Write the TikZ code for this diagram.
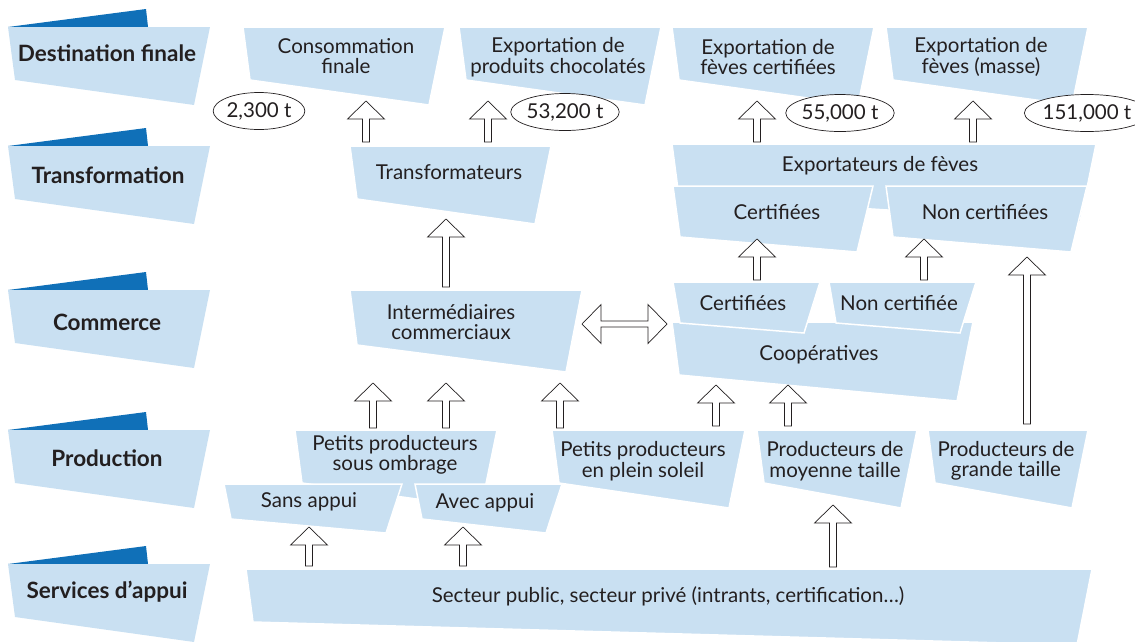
\documentclass[tikz,border=0pt]{standalone}
\usepackage{fontspec}
\setmainfont{Lato}
\usetikzlibrary{shapes.geometric,calc}
\definecolor{boxblue}{RGB}{201,224,242}
\definecolor{tabblue}{RGB}{16,112,184}
\definecolor{ink}{RGB}{35,31,32}

% slanted box: top-left x, top y, top-right x, left height, right height
\newcommand\qbox[5]{%
  \fill[boxfill] (#1,#2) -- (#3,#2) -- (#3-16,#2+#5) -- (#1+7,#2+#4) -- cycle;}
% row heading with its dark tab: top y
\newcommand\rowhead[1]{%
  \fill[tabblue] (8,#1) -- (146,#1-18) -- (148,#1) -- cycle;
  \fill[boxblue] (8,#1) -- (210,#1) -- (194,#1+78) -- (15,#1+53) -- cycle;}
% hollow upward block arrow from #1 (foot) to #2 (tip)
\newcommand\uparr[2]{%
  \draw[blockarrow] let \p1=(#1), \p2=(#2) in
    ({\x1-3.5pt},\y1) -- ({\x1-3.5pt},{\y2-18pt}) -- ({\x1-18.5pt},{\y2-18pt})
    -- (\x1,\y2) -- ({\x1+18.5pt},{\y2-18pt}) -- ({\x1+3.5pt},{\y2-18pt})
    -- ({\x1+3.5pt},\y1) -- cycle;}
% hollow two-headed horizontal block arrow between #1 and #2
\newcommand\hdarr[2]{%
  \draw[blockarrow] let \p1=(#1), \p2=(#2) in
    (\x1,\y1) -- ({\x1+19pt},{\y1+19.5pt}) -- ({\x1+19pt},{\y1+3pt})
    -- ({\x2-19pt},{\y1+3pt}) -- ({\x2-19pt},{\y1+19.5pt}) -- (\x2,\y1)
    -- ({\x2-19pt},{\y1-19.5pt}) -- ({\x2-19pt},{\y1-3pt})
    -- ({\x1+19pt},{\y1-3pt}) -- ({\x1+19pt},{\y1-19.5pt}) -- cycle;}

\begin{document}
\begin{tikzpicture}[x=1pt,y=-1pt,
  boxfill/.style={fill=boxblue,draw=white,line width=1.5pt,line join=miter},
  blockarrow/.style={draw=ink,fill=white,line width=0.7pt,line join=miter},
  txt/.style={text=ink,font=\fontsize{20.5}{20.5}\selectfont,align=center,inner sep=0pt},
  headtxt/.style={text=ink,font=\fontsize{22.5}{22}\selectfont\bfseries,inner sep=0pt},
  qty/.style={ellipse,draw=ink,line width=0.7pt,fill=white,minimum width=91pt,
    minimum height=37pt,inner sep=0pt,text=ink,font=\fontsize{20.5}{20.5}\selectfont}]
\useasboundingbox (0,0) rectangle (1135,641);
\begin{scope}
\clip (0,0) rectangle (1135,641);

% row headings
\rowhead{27}  \node[headtxt] (hDest) at (107,53) {Destination finale};
\rowhead{146} \node[headtxt] (hTrans) at (108,175) {Transformation};
\rowhead{290} \node[headtxt] (hComm) at (107,322) {Commerce};
\rowhead{430} \node[headtxt] (hProd) at (107,458) {Production};
\rowhead{564} \node[headtxt] (hServ) at (107,592) {Services d’appui};

% final destinations
\qbox{243}{27}{445}{53}{78}
\node[txt] (conso) at (346,56) {Consommation\\finale};
\qbox{459}{27}{661}{53}{78}
\node[txt] (expchoc) at (558,57) {Exportation de\\produits chocolatés};
\qbox{672}{27}{874}{53}{78}
\node[txt] (expcert) at (768,57) {Exportation de\\fèves certifiées};
\qbox{886}{27}{1088}{53}{78}
\node[txt] (expmasse) at (981,57) {Exportation de\\fèves (masse)};

% quantities
\node[qty] (q1) at (259,111) {2,300 t};
\node[qty] (q2) at (565,112) {53,200 t};
\node[qty] (q3) at (840,113) {55,000 t};
\node[qty] (q4) at (1087,113) {151,000 t};

% transformation
\qbox{350}{146}{551}{53}{78}
\node[txt] (transfo) at (449,172) {Transformateurs};
\qbox{672}{144}{1096}{53}{78}
\node[txt] (exporteurs) at (880,166) {Exportateurs de fèves};
\qbox{673}{186}{873}{51}{66}
\node[txt] (excert) at (777,212) {Certifiées};
\qbox{886}{186}{1087}{51}{66}
\node[txt] (exnoncert) at (985,212) {Non certifiées};

% commerce
\qbox{350}{290}{582}{55}{82}
\node[txt] (interm) at (451,322) {Intermédiaires\\commerciaux};
\qbox{672}{322}{973}{53}{79}
\node[txt] (coop) at (819,355) {Coopératives};
\qbox{673}{282}{820}{41}{51}
\node[txt] (coopcert) at (743,303) {Certifiées};
\qbox{829}{282}{976}{41}{51}
\node[txt] (coopnon) at (899,303) {Non certifiée};

% production
\qbox{295}{430}{497}{53}{78}
\node[txt] (ombre) at (395,455) {Petits producteurs\\sous ombrage};
\qbox{224}{484}{402}{35}{49}
\node[txt] (sans) at (309,502) {Sans appui};
\qbox{415}{484}{562}{35}{49}
\node[txt] (avec) at (485,503) {Avec appui};
\qbox{552}{430}{745}{53}{78}
\node[txt] (soleil) at (643,461) {Petits producteurs\\en plein soleil};
\qbox{757}{430}{917}{53}{78}
\node[txt] (moyen) at (835,461) {Producteurs de\\moyenne taille};
\qbox{928}{430}{1088}{53}{78}
\node[txt] (grand) at (1006,461) {Producteurs de\\grande taille};

% support services
\fill[boxfill] (246,569) -- (1092,569) -- (1077,645) -- (253,622) -- cycle;
\node[txt] (serv) at (668,596) {Secteur public, secteur privé (intrants, certification…)};

% arrow end points
\coordinate (aConsoF) at (366,142);  \coordinate (aConsoT) at (366,101);
\coordinate (aChocF)  at (488,142);  \coordinate (aChocT)  at (488,101);
\coordinate (aCertF)  at (757,142);  \coordinate (aCertT)  at (757,101);
\coordinate (aMasseF) at (973,142);  \coordinate (aMasseT) at (973,101);
\coordinate (aTrF)    at (446,287);  \coordinate (aTrT)    at (446,219);
\coordinate (aCcF)    at (757,280);  \coordinate (aCcT)    at (757,239);
\coordinate (aCnF)    at (924,280);  \coordinate (aCnT)    at (924,239);
\coordinate (aGrF)    at (1027,424); \coordinate (aGrT)    at (1027,257);
\coordinate (aOm1F)   at (373,428);  \coordinate (aOm1T)   at (373,383);
\coordinate (aOm2F)   at (446,428);  \coordinate (aOm2T)   at (446,383);
\coordinate (aSoIF)   at (560,428);  \coordinate (aSoIT)   at (560,383);
\coordinate (aSoCF)   at (716,426);  \coordinate (aSoCT)   at (716,385);
\coordinate (aMoCF)   at (788,426);  \coordinate (aMoCT)   at (788,385);
\coordinate (aSaF)    at (309,566);  \coordinate (aSaT)    at (309,527);
\coordinate (aAvF)    at (463,566);  \coordinate (aAvT)    at (463,527);
\coordinate (aMoF)    at (833,567);  \coordinate (aMoT)    at (833,505);
\coordinate (dL)      at (582,324);  \coordinate (dR)      at (667,324);

% flows
\uparr{aConsoF}{aConsoT}
\uparr{aChocF}{aChocT}
\uparr{aCertF}{aCertT}
\uparr{aMasseF}{aMasseT}
\uparr{aTrF}{aTrT}
\uparr{aCcF}{aCcT}
\uparr{aCnF}{aCnT}
\uparr{aGrF}{aGrT}
\uparr{aOm1F}{aOm1T}
\uparr{aOm2F}{aOm2T}
\uparr{aSoIF}{aSoIT}
\uparr{aSoCF}{aSoCT}
\uparr{aMoCF}{aMoCT}
\uparr{aSaF}{aSaT}
\uparr{aAvF}{aAvT}
\uparr{aMoF}{aMoT}
\hdarr{dL}{dR}
\end{scope}
\end{tikzpicture}
\end{document}
